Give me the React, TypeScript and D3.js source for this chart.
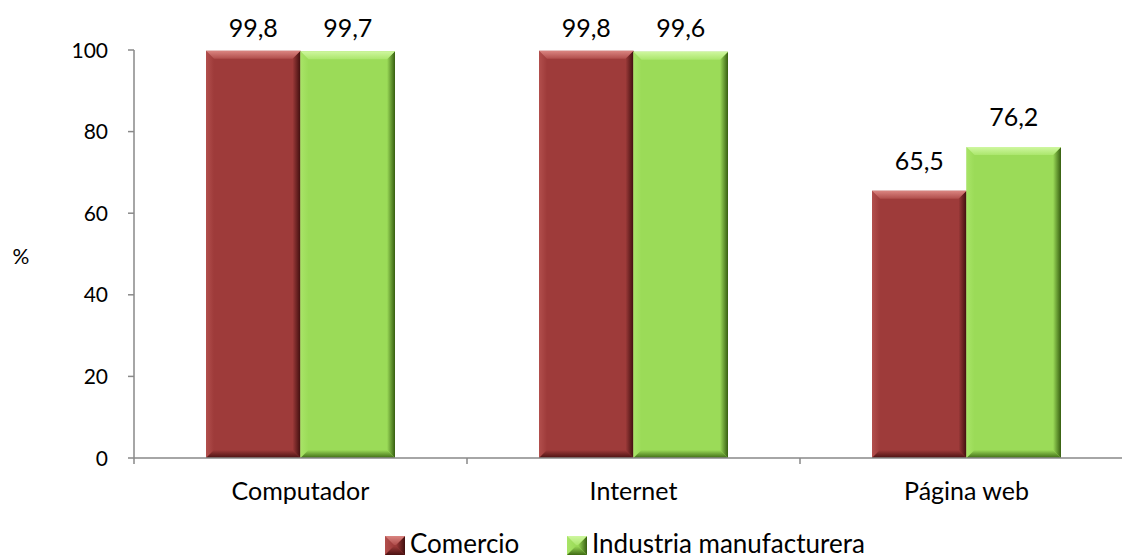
import React from "react";
import * as d3 from "d3";

const categories = ["Computador", "Internet", "Página web"];
const seriesNames = ["Comercio", "Industria manufacturera"];
const comercio = [99.8, 99.8, 65.5];
const industria = [99.7, 99.6, 76.2];
const yTicks = [0, 20, 40, 60, 80, 100];

const W = 1122;
const H = 559;
const FONT = "Lato, 'Open Sans', sans-serif";

const palette = [
  { id: "r", face: "#9E3B3A", light: "#DA8581", lightEnd: "#B04D4B", left: "#B24F4D", dark: "#4A1111", side: "#3F0E0E" },
  { id: "g", face: "#9BDB58", light: "#CFF7A0", lightEnd: "#ABE66C", left: "#A8E467", dark: "#3E6A14", side: "#365E10" },
];

function Defs() {
  return (
    <defs>
      {palette.map((c) => (
        <g key={c.id}>
          <linearGradient id={`top-${c.id}`} x1="0" y1="0" x2="0" y2="1">
            <stop offset="0" stopColor={c.light} />
            <stop offset="1" stopColor={c.lightEnd} />
          </linearGradient>
          <linearGradient id={`left-${c.id}`} x1="0" y1="0" x2="1" y2="0">
            <stop offset="0" stopColor={c.left} />
            <stop offset="1" stopColor={c.face} />
          </linearGradient>
          <linearGradient id={`right-${c.id}`} x1="1" y1="0" x2="0" y2="0">
            <stop offset="0" stopColor={c.side} />
            <stop offset="1" stopColor={c.face} />
          </linearGradient>
          <linearGradient id={`bot-${c.id}`} x1="0" y1="1" x2="0" y2="0">
            <stop offset="0" stopColor={c.dark} />
            <stop offset="1" stopColor={c.face} />
          </linearGradient>
        </g>
      ))}
    </defs>
  );
}

function BevelRect({ x, y, w, h, c, b = 8 }: any) {
  const bb = Math.min(b, w / 2, h / 2);
  const poly = (pts: number[][]) => pts.map((p) => p.join(",")).join(" ");
  return (
    <g>
      <rect x={x} y={y} width={w} height={h} fill={c.face} />
      <polygon points={poly([[x, y], [x + bb, y + bb], [x + bb, y + h - bb], [x, y + h]])} fill={`url(#left-${c.id})`} />
      <polygon points={poly([[x + w, y], [x + w, y + h], [x + w - bb, y + h - bb], [x + w - bb, y + bb]])} fill={`url(#right-${c.id})`} />
      <polygon points={poly([[x, y + h], [x + bb, y + h - bb], [x + w - bb, y + h - bb], [x + w, y + h]])} fill={`url(#bot-${c.id})`} />
      <polygon points={poly([[x, y], [x + w, y], [x + w - bb, y + bb], [x + bb, y + bb]])} fill={`url(#top-${c.id})`} />
    </g>
  );
}

export default function App() {
  const left = 134;
  const bandW = 333;
  const x = d3.scaleBand<string>().domain(categories).range([left, left + bandW * categories.length]).padding(0);
  const y = d3.scaleLinear().domain([0, 100]).range([458, 50]);
  const groupW = 189;
  const inner = d3.scaleBand<number>().domain([0, 1]).range([0, groupW]).padding(0);
  const series = [comercio, industria];
  const y0 = y(0);

  return (
    <svg width={W} height={H} style={{ position: "absolute", left: 0, top: 0, background: "#fff" }} fontFamily={FONT}>
      <Defs />
      {/* y axis */}
      <line x1={left} x2={left} y1={y(100)} y2={y0 + 6} stroke="#898989" strokeWidth={1.5} />
      {yTicks.map((t) => (
        <g key={t}>
          <line x1={left - 6} x2={left} y1={y(t)} y2={y(t)} stroke="#898989" strokeWidth={1.5} />
          <text x={108} y={y(t)} dy="0.36em" textAnchor="end" fontSize={21} fill="#000">
            {t}
          </text>
        </g>
      ))}
      <text x={21} y={256} dy="0.36em" textAnchor="middle" fontSize={21}>%</text>
      {/* bars */}
      {categories.map((c, ci) => {
        const gx = (x(c) as number) + (bandW - groupW) / 2;
        return series.map((s, si) => {
          const bx = gx + (inner(si) as number);
          const bw = inner.bandwidth();
          const by = y(s[ci]);
          return (
            <g key={c + si}>
              <BevelRect x={bx} y={by} w={bw} h={y0 - by} c={palette[si]} />
              <text x={bx + bw / 2} y={Math.max(by - 21, 37)} textAnchor="middle" fontSize={25}>
                {s[ci].toFixed(1).replace(".", ",")}
              </text>
            </g>
          );
        });
      })}
      {/* x axis */}
      <line x1={left} x2={W} y1={y0} y2={y0} stroke="#898989" strokeWidth={1.5} />
      {categories.map((c) => (
        <line key={c} x1={(x(c) as number) + bandW} x2={(x(c) as number) + bandW} y1={y0} y2={y0 + 6} stroke="#898989" strokeWidth={1.5} />
      ))}
      {categories.map((c) => (
        <text key={c} x={(x(c) as number) + bandW / 2} y={500} textAnchor="middle" fontSize={25}>
          {c}
        </text>
      ))}
      {/* legend */}
      <g>
        <BevelRect x={385} y={536} w={20} h={19} c={palette[0]} b={9} />
        <text x={410} y={553} fontSize={26}>{seriesNames[0]}</text>
        <BevelRect x={567} y={536} w={20} h={19} c={palette[1]} b={9} />
        <text x={592} y={553} fontSize={26}>{seriesNames[1]}</text>
      </g>
    </svg>
  );
}
